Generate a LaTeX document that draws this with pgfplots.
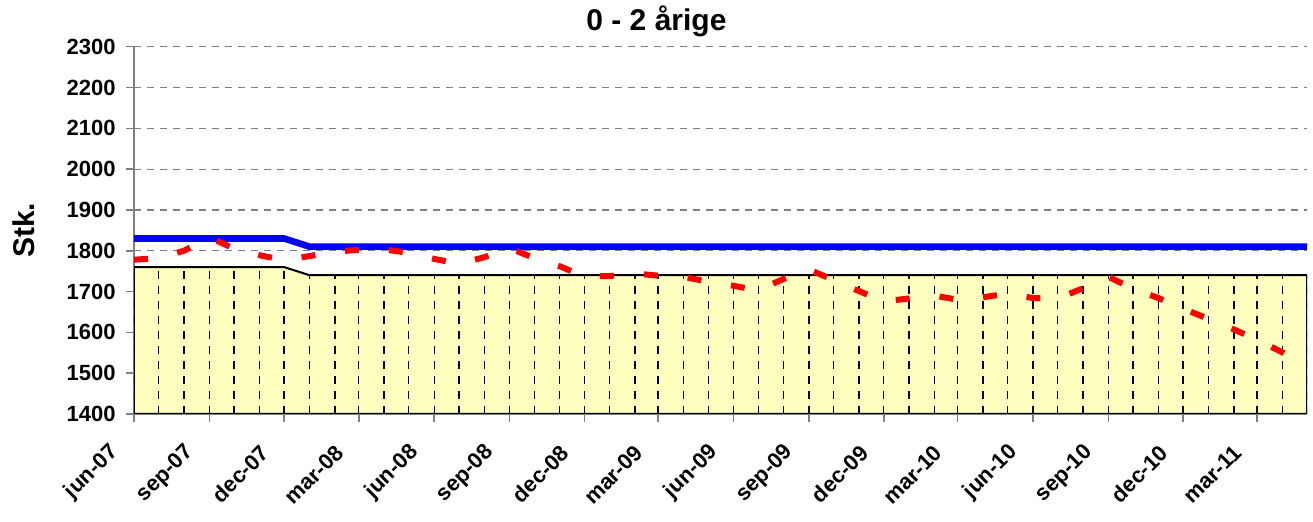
\documentclass[border=0pt]{standalone}
\usepackage{pgfplots}
\pgfplotsset{compat=1.18}
\usepackage{pgfplotstable}
\usepackage{fontspec}
\setmainfont{Liberation Sans}

\definecolor{areayellow}{RGB}{255,255,192}
\definecolor{axisgray}{RGB}{128,128,128}

% day = days since 1 jun 2007, one row per month
\pgfplotstableread{
day  area  upper  actual
0    1760  1830   1778
30   1760  1830   1782
61   1760  1830   1800
92   1760  1830   1833
122  1760  1830   1805
153  1760  1830   1789
183  1760  1830   1777
214  1740  1810   1787
245  1740  1810   1798
274  1740  1810   1802
305  1740  1810   1803
335  1740  1810   1795
366  1740  1810   1780
396  1740  1810   1768
427  1740  1810   1784
458  1740  1810   1806
488  1740  1810   1782
519  1740  1810   1762
549  1740  1810   1737
580  1740  1810   1738
611  1740  1810   1744
639  1740  1810   1739
670  1740  1810   1736
700  1740  1810   1724
731  1740  1810   1714
761  1740  1810   1703
792  1740  1810   1731
823  1740  1810   1754
853  1740  1810   1728
884  1740  1810   1701
914  1740  1810   1676
945  1740  1810   1683
976  1740  1810   1690
1004 1740  1810   1680
1035 1740  1810   1686
1065 1740  1810   1695
1096 1740  1810   1684
1126 1740  1810   1683
1157 1740  1810   1708
1188 1740  1810   1736
1218 1740  1810   1707
1249 1740  1810   1684
1279 1740  1810   1658
1310 1740  1810   1633
1341 1740  1810   1607
1369 1740  1810   1582
1400 1740  1810   1551
1430 1740  1810   1521
}\data

\begin{document}
\begin{tikzpicture}
\begin{axis}[
    name=ax,
    width=586.5pt, height=183.65pt, scale only axis,
    xmin=0, xmax=1430, ymin=1400, ymax=2300,
    ytick={1400,1500,...,2300},
    xtick={0,92,183,274,366,458,549,639,731,823,914,1004,1096,1188,1279,1369},
    xticklabels={jun-07,sep-07,dec-07,mar-08,jun-08,sep-08,dec-08,mar-09,
                 jun-09,sep-09,dec-09,mar-10,jun-10,sep-10,dec-10,mar-11},
    axis x line*=bottom, axis y line*=left,
    axis line style={axisgray, line width=0.8pt, -},
    tick align=outside, major tick length=4pt,
    tick style={axisgray, line width=0.8pt},
    ymajorgrids,
    grid style={axisgray, dash pattern=on 3.5pt off 3pt, line width=0.6pt},
    tick label style={font=\bfseries\fontsize{11}{13}\selectfont},
    /pgf/number format/assume math mode=true,
    /pgf/number format/1000 sep={},
    scaled ticks=false,
    yticklabel style={anchor=east, inner sep=0pt, xshift=-5pt},
    xticklabel style={xshift=-9.5pt, yshift=-13.5pt, rotate=45, anchor=east, inner sep=0pt},
    title={0 - 2 årige},
    title style={font=\bfseries\fontsize{15}{18}\selectfont,
                 at={(axis description cs:0.4454,1)}, anchor=base, yshift=2pt},
    ylabel={Stk.},
    ylabel style={font=\bfseries\fontsize{15}{18}\selectfont,
                  at={(axis description cs:-0.0942,0.5)}, anchor=center},
]
\addplot[draw=black, line width=1pt, fill=areayellow] table[x=day, y=area] {\data} \closedcycle;
\addplot[ycomb, black, line width=0.7pt, dash pattern=on 4pt off 3.5pt, no marks] table[x=day, y=area] {\data};
\addplot[blue, line width=3.3pt, no marks] table[x=day, y=upper] {\data};
\addplot[red, line width=3pt, dash pattern=on 7pt off 15pt, no marks] table[x=day, y=actual] {\data};
\end{axis}
\pgfresetboundingbox
\path ([shift={(-67pt,-54pt)}]ax.south west) rectangle ([shift={(3pt,23.35pt)}]ax.north east);
\end{tikzpicture}
\end{document}
